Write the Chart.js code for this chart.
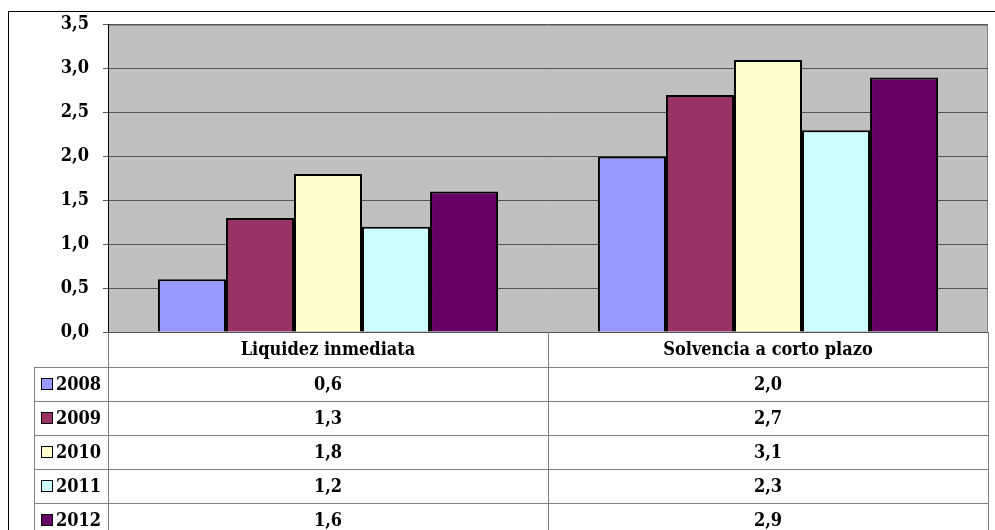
<!DOCTYPE html>
<html>
<head>
<meta charset="utf-8">
<script src="https://cdn.jsdelivr.net/npm/chart.js@4"></script>
<style>
    body { margin: 0; background: #fff; }
    #wrap { width: 995px; height: 530px; }
</style>
</head>
<body>
<div id="wrap"><canvas id="ratiosChart"></canvas></div>
<script>
const categories = ['Liquidez inmediata', 'Solvencia a corto plazo'];
const years = ['2008', '2009', '2010', '2011', '2012'];
const values2008 = [0.6, 2.0];
const values2009 = [1.3, 2.7];
const values2010 = [1.8, 3.1];
const values2011 = [1.2, 2.3];
const values2012 = [1.6, 2.9];
const yTicks = [0, 0.5, 1.0, 1.5, 2.0, 2.5, 3.0, 3.5];

const colors = ['#9999FF', '#993366', '#FFFFCC', '#CCFFFF', '#660066'];
const seriesValues = [values2008, values2009, values2010, values2011, values2012];
const FAMILY = '"DejaVu Serif Condensed", "DejaVu Serif", serif';
const FONT = 'bold 18px ' + FAMILY;

const fmt = v => v.toFixed(1).replace('.', ',');

// outer frame + grey plot background
const framePlugin = {
    id: 'frame',
    beforeDraw(chart) {
        const { ctx, chartArea: a } = chart;
        ctx.save();
        ctx.fillStyle = '#fff';
        ctx.fillRect(0, 0, chart.width, chart.height);
        ctx.strokeStyle = '#000';
        ctx.lineWidth = 1;
        ctx.strokeRect(8.5, 11.5, chart.width, chart.height);
        ctx.fillStyle = '#C0C0C0';
        ctx.fillRect(a.left, a.top, a.right - a.left, a.bottom - a.top);
        ctx.strokeStyle = '#808080';
        ctx.beginPath();
        ctx.moveTo(a.left, a.top + 0.5);
        ctx.lineTo(a.right - 0.5, a.top + 0.5);
        ctx.lineTo(a.right - 0.5, a.bottom);
        ctx.stroke();
        ctx.restore();
    }
};

// data table under the plot
const tablePlugin = {
    id: 'dataTable',
    afterDraw(chart) {
        const { ctx, chartArea: a, scales } = chart;
        const x = scales.x;
        const rowH = 34;
        const headBottom = a.bottom + 35;
        const tableLeft = 34;
        const mid = (x.getPixelForValue(0) + x.getPixelForValue(1)) / 2;
        ctx.save();
        ctx.strokeStyle = '#808080';
        ctx.lineWidth = 1;
        ctx.beginPath();
        // vertical lines
        [a.left, mid, a.right].forEach(px => {
            const p = Math.round(px) + 0.5;
            ctx.moveTo(p, a.bottom);
            ctx.lineTo(p, chart.height);
        });
        ctx.moveTo(tableLeft + 0.5, headBottom);
        ctx.lineTo(tableLeft + 0.5, chart.height);
        // horizontal lines
        for (let i = 0; i < years.length; i++) {
            const y = Math.round(headBottom + i * rowH) + 0.5;
            ctx.moveTo(tableLeft, y);
            ctx.lineTo(a.right, y);
        }
        ctx.stroke();

        ctx.font = FONT;
        ctx.fillStyle = '#000';
        ctx.textBaseline = 'middle';
        ctx.textAlign = 'center';
        categories.forEach((c, i) => {
            ctx.fillText(c, x.getPixelForValue(i), a.bottom + 18);
        });
        years.forEach((yr, r) => {
            const cy = headBottom + r * rowH + rowH / 2;
            ctx.fillStyle = colors[r];
            ctx.fillRect(41, cy - 5, 11, 11);
            ctx.strokeStyle = '#000';
            ctx.strokeRect(41.5, cy - 5.5, 11, 11);
            ctx.fillStyle = '#000';
            ctx.textAlign = 'left';
            ctx.fillText(yr, 56, cy + 1);
            ctx.textAlign = 'center';
            seriesValues[r].forEach((v, i) => {
                ctx.fillText(fmt(v), x.getPixelForValue(i), cy + 1);
            });
        });
        ctx.restore();
    }
};

new Chart(document.getElementById('ratiosChart'), {
    type: 'bar',
    data: {
        labels: categories,
        datasets: years.map((yr, i) => ({
            label: yr,
            data: seriesValues[i],
            backgroundColor: colors[i],
            borderColor: '#000',
            borderWidth: 2,
            borderSkipped: 'bottom',
            barPercentage: 1,
            categoryPercentage: 0.773
        }))
    },
    options: {
        responsive: true,
        maintainAspectRatio: false,
        animation: false,
        layout: { padding: { top: 24, right: 7, bottom: 198, left: 0 } },
        plugins: {
            legend: { display: false },
            tooltip: { enabled: false }
        },
        scales: {
            x: {
                display: false,
                grid: { display: false }
            },
            y: {
                min: 0,
                max: 3.5,
                afterFit: s => { s.width = 108; },
                afterBuildTicks: s => { s.ticks = yTicks.map(v => ({ value: v })); },
                border: { color: '#000', width: 1 },
                grid: { color: '#555', tickLength: 5, drawOnChartArea: true },
                ticks: {
                    padding: 14,
                    color: '#000',
                    font: { family: FAMILY, size: 18, weight: 'bold' },
                    callback: v => fmt(v)
                }
            }
        }
    },
    plugins: [framePlugin, tablePlugin]
});
</script>
</body>
</html>
